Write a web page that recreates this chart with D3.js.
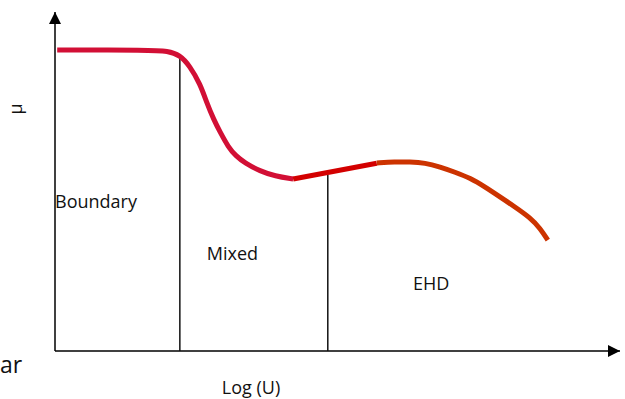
<!DOCTYPE html>
<html>
<head>
<meta charset="utf-8">
<script src="https://cdn.jsdelivr.net/npm/d3@7"></script>
<style>
  body{margin:0;background:#fff;}
  text{font-family:"Open Sans",sans-serif;fill:#111;}
</style>
</head>
<body>
<svg width="625" height="399"></svg>
<script>
// curve pieces, x = log(U) units (0-100), y = mu units (0-100)
var boundaryX=[0.4,17.3,20.5,22.7,24.5,26.4,27.6,28.9,30,31.5,32.9,34.5,37.3,40,43.3];
var boundaryY=[91.2,91.2,90.9,89.7,86.4,80.9,75.2,70,66.4,61.8,59.1,57,54.5,53,52.1];
var mixedX=[43.3,58.5];
var mixedY=[52.1,56.9];
var ehdX=[58.5,61.8,64.5,67.3,70,72.7,75.5,78.2,80.9,83.6,86.4,88.2,89.6];
var ehdY=[57,57.3,57.3,57,55.8,54.2,52.4,49.7,46.7,43.7,40.4,37.2,33.6];
var segColors=['#d20f35','#d30000','#cc3300'];

var dividerX=[22.7,49.6];
var dividerTop=[89.7,53.3];

var regionNames=['Boundary','Mixed','EHD'];
var regionX=[0,27.6,65.1];
var regionY=[43.3,27.5,18.5];

var xTitle='Log (U)';
var yTitle='\u03bc';

var svg=d3.select('svg');

var x=d3.scaleLinear().domain([0,100]).range([55,605]);
var y=d3.scaleLinear().domain([0,100]).range([351,21]);

var defs=svg.append('defs');
defs.append('marker')
  .attr('id','arrow')
  .attr('viewBox','0 0 12 12')
  .attr('refX',12).attr('refY',6)
  .attr('markerWidth',12).attr('markerHeight',12)
  .attr('markerUnits','userSpaceOnUse')
  .attr('orient','auto')
  .append('path').attr('d','M0,0 L12,6 L0,12 Z').attr('fill','#000');

// axes
svg.append('line')
  .attr('x1',x(0)).attr('y1',y(0))
  .attr('x2',x(0)).attr('y2',12)
  .attr('stroke','#000').attr('stroke-width',1.5)
  .attr('marker-end','url(#arrow)');
svg.append('line')
  .attr('x1',x(0)).attr('y1',y(0))
  .attr('x2',620).attr('y2',y(0))
  .attr('stroke','#000').attr('stroke-width',1.5)
  .attr('marker-end','url(#arrow)');

// regime dividers
svg.selectAll('line.divider')
  .data(dividerX)
  .enter().append('line')
  .attr('class','divider')
  .attr('x1',function(d){return x(d);})
  .attr('x2',function(d){return x(d);})
  .attr('y1',function(d,i){return y(dividerTop[i]);})
  .attr('y2',y(0))
  .attr('stroke','#111').attr('stroke-width',1.5);

// friction curve
var segs=[
  d3.zip(boundaryX,boundaryY),
  d3.zip(mixedX,mixedY),
  d3.zip(ehdX,ehdY)
];
var line=d3.line()
  .x(function(d){return x(d[0]);})
  .y(function(d){return y(d[1]);})
  .curve(d3.curveBasis);

svg.selectAll('path.seg')
  .data(segs)
  .enter().append('path')
  .attr('class','seg')
  .attr('d',line)
  .attr('fill','none')
  .attr('stroke',function(d,i){return segColors[i];})
  .attr('stroke-width',5);

// region labels
svg.selectAll('text.region')
  .data(regionNames)
  .enter().append('text')
  .attr('class','region')
  .attr('x',function(d,i){return x(regionX[i]);})
  .attr('y',function(d,i){return y(regionY[i]);})
  .attr('font-size',18)
  .text(function(d){return d;});

svg.append('text')
  .attr('x',251).attr('y',394)
  .attr('text-anchor','middle')
  .attr('font-size',18)
  .text(xTitle);

svg.append('text')
  .attr('transform','translate(22,109)rotate(-90)')
  .attr('text-anchor','middle')
  .attr('font-size',18)
  .text(yTitle);

svg.append('text')
  .attr('x',0).attr('y',373)
  .attr('font-size',23)
  .text('ar');
</script>
</body>
</html>
